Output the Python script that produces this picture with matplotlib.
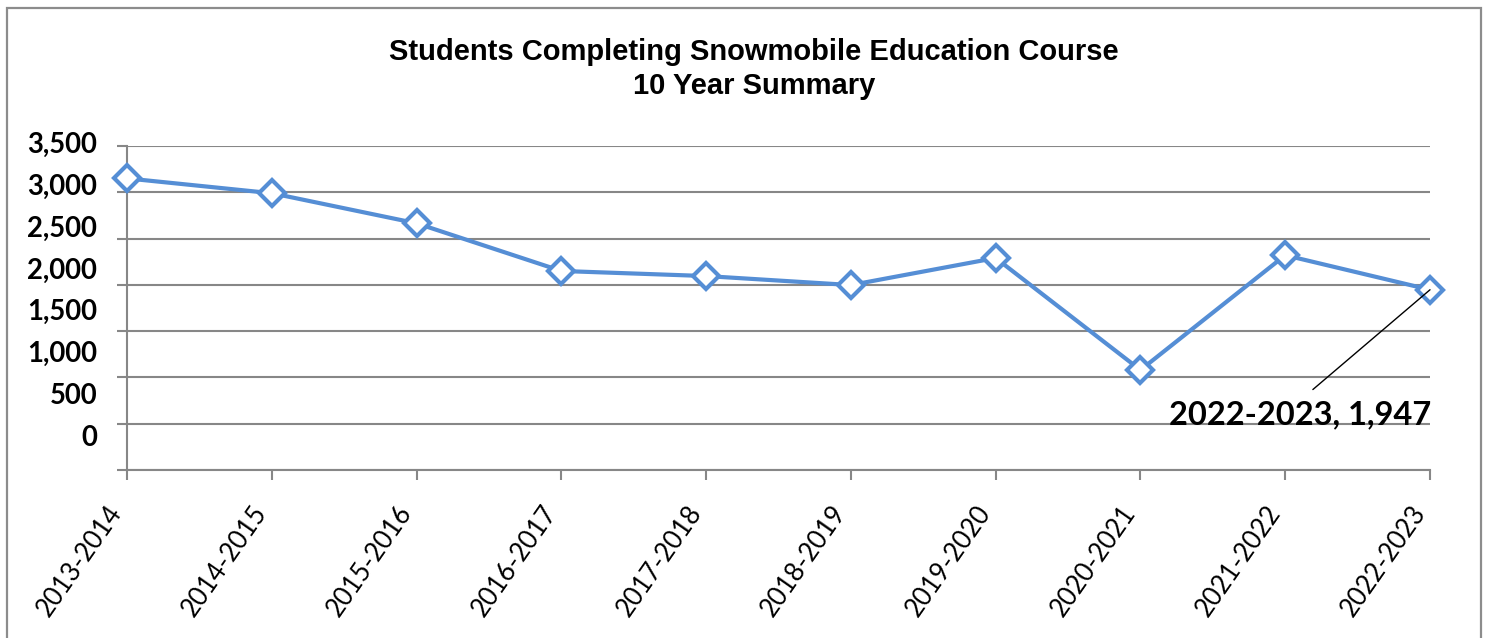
import matplotlib
matplotlib.use("Agg")
import matplotlib.pyplot as plt
from matplotlib.patches import Rectangle
from matplotlib.transforms import ScaledTranslation

seasons = ["2013-2014", "2014-2015", "2015-2016", "2016-2017", "2017-2018",
           "2018-2019", "2019-2020", "2020-2021", "2021-2022", "2022-2023"]
students = [3150, 2990, 2665, 2150, 2095, 1998, 2290, 1080, 2320, 1947]
ytick_values = [0, 500, 1000, 1500, 2000, 2500, 3000, 3500]
ytick_labels = ["0", "500", "1,000", "1,500", "2,000", "2,500", "3,000", "3,500"]
title_text = "Students Completing Snowmobile Education Course\n10 Year Summary"
annot_text = "2022-2023, 1,947"

W, H = 1489, 638
fig = plt.figure(figsize=(W / 100, H / 100), dpi=100)
ax = fig.add_axes([127 / W, 1 - 470 / H, 1303 / W, 324 / H])

blue = "#558ED5"
grid_gray = "#878787"

x = list(range(len(seasons)))
ax.plot(x, students, color=blue, lw=3.0, marker="D", markersize=13,
        markerfacecolor="white", markeredgecolor=blue, markeredgewidth=3.0,
        clip_on=False, zorder=5)

ax.set_xlim(0, len(seasons) - 1)
ax.set_ylim(0, 3500)
ax.set_yticks(ytick_values)
ax.set_yticklabels([""] * len(ytick_values))
ax.yaxis.grid(True, color=grid_gray, lw=1.5)
ax.set_axisbelow(True)
ax.tick_params(axis="y", length=7.2, width=1.5, color=grid_gray, direction="out")
ax.tick_params(axis="x", length=7.2, width=1.5, color=grid_gray, direction="out", pad=20)

for s in ["top", "right"]:
    ax.spines[s].set_visible(False)
for s in ["left", "bottom"]:
    ax.spines[s].set_color(grid_gray)
    ax.spines[s].set_linewidth(1.5)

ax.set_xticks(x)
ax.set_xticklabels(seasons, rotation=55, ha="right", va="center",
                   rotation_mode="anchor", fontsize=18.5, family="Lato")
shift = ScaledTranslation(-10 / 100, 0, fig.dpi_scale_trans)
for lbl in ax.get_xticklabels():
    lbl.set_transform(lbl.get_transform() + shift)

# y labels as drawn in the reference (slightly compressed spacing vs gridlines)
label_top_px = 145.0
label_step_px = 41.8
for i, lab in enumerate(reversed(ytick_labels)):
    ypx = label_top_px + label_step_px * i
    ax.text(-30 / 1303, (470 - ypx) / 324, lab, transform=ax.transAxes,
            ha="right", va="center", fontsize=19.8, fontweight="bold",
            family="Lato")

fig.text(754 / W, 1 - 69 / H, title_text, ha="center", va="center",
         fontsize=21, fontweight="bold", family="Liberation Sans",
         linespacing=1.3)

ax.annotate(annot_text, xy=(x[-1], students[-1]), xycoords="data",
            xytext=(0.9003, 0.170), textcoords="axes fraction",
            ha="center", va="center", fontsize=23.5, fontweight="bold",
            family="Lato",
            arrowprops=dict(arrowstyle="-", color="black", lw=1.0,
                            relpos=(0.5, 1.0), shrinkA=9, shrinkB=0),
            zorder=6)

frame = Rectangle((7 / W, -0.1), (1481 - 7) / W, (1 - 8 / H) + 0.1,
                  transform=fig.transFigure, fill=False,
                  edgecolor="#8c8c8c", lw=1.6, clip_on=False)
fig.patches.append(frame)

fig.savefig("out.png", dpi=100)
